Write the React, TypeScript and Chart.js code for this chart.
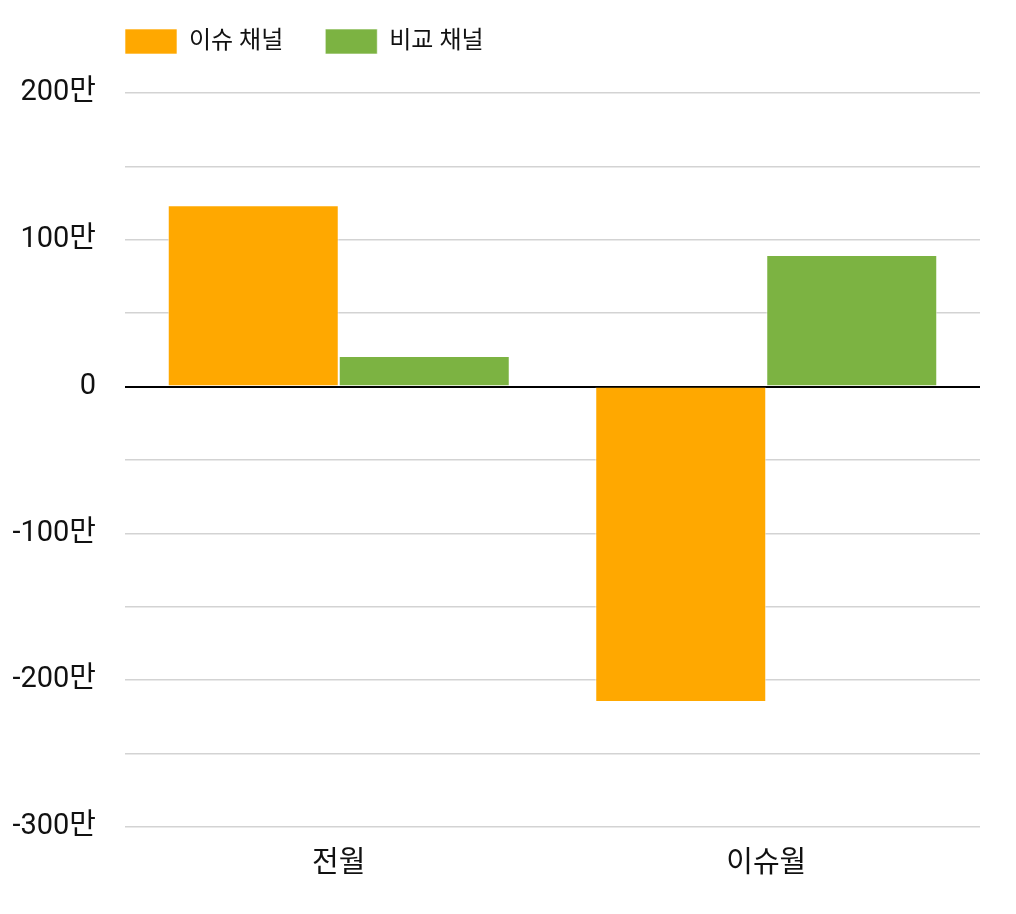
import React, { useEffect, useRef } from "react";
import { Chart, registerables } from "chart.js";

Chart.register(...registerables);

const categories = ["전월", "이슈월"];
const seriesNames = ["이슈 채널", "비교 채널"];
const issueValues = [1236000, -2148000];
const compareValues = [208000, 896000];
const seriesColors = ["#FFA800", "#7CB342"];

const FONT = "Roboto, 'Noto Sans CJK KR', sans-serif";

// nudge the legend up/left so it lines up with the plot area's left edge
const legendShift = {
  id: "legendShift",
  afterLayout(chart: any) {
    const lg = chart.legend;
    if (!lg) return;
    lg.left -= 42;
    lg.right -= 42;
    lg.top -= 29;
    lg.bottom -= 29;
  },
};

const App = () => {
  const chartRef = useRef<HTMLCanvasElement | null>(null);

  useEffect(() => {
    const ctx = chartRef.current?.getContext("2d");
    if (!ctx) return;

    const chartInstance = new Chart(ctx, {
      type: "bar",
      data: {
        labels: categories,
        datasets: [
          {
            label: seriesNames[0],
            data: issueValues,
            backgroundColor: seriesColors[0],
            borderColor: "rgba(255,255,255,0.6)",
            borderWidth: 1,
          },
          {
            label: seriesNames[1],
            data: compareValues,
            backgroundColor: seriesColors[1],
            borderColor: "rgba(255,255,255,0.6)",
            borderWidth: 1,
          },
        ],
      },
      options: {
        animation: false,
        responsive: false,
        layout: { padding: { left: 0, right: 28, top: 8, bottom: 0 } },
        datasets: { bar: { categoryPercentage: 0.8, barPercentage: 1.0 } },
        plugins: {
          tooltip: { enabled: false },
          legend: {
            position: "top",
            align: "start",
            fullSize: false,
            labels: {
              boxWidth: 52,
              boxHeight: 25,
              padding: 42,
              color: "#111",
              font: { family: FONT, size: 24 },
            },
          },
        },
        scales: {
          x: {
            grid: { display: false, drawTicks: false },
            border: { display: false },
            ticks: { color: "#111", padding: 20, font: { family: FONT, size: 29 } },
            afterFit: (scale: any) => {
              scale.height = 79;
            },
          },
          y: {
            min: -3000000,
            max: 2000000,
            grid: {
              drawTicks: false,
              color: (c: any) => (c.tick && c.tick.value === 0 ? "#000" : "#d3d3d3"),
              lineWidth: (c: any) => (c.tick && c.tick.value === 0 ? 2 : 1.5),
            },
            border: { display: false },
            ticks: {
              stepSize: 500000,
              color: "#111",
              padding: 29,
              font: { family: FONT, size: 29 },
              callback: (v: any) => {
                const n = Number(v);
                if (n === 0) return "0";
                if (n % 1000000 !== 0) return "";
                return n / 10000 + "만";
              },
            },
            afterFit: (scale: any) => {
              scale.width = 117;
            },
          },
        },
      },
      plugins: [legendShift],
    });

    return () => {
      chartInstance.destroy();
    };
  }, []);

  return (
    <div style={{ width: 1000, height: 898 }}>
      <canvas ref={chartRef} width={1000} height={898} />
    </div>
  );
};

export default App;
